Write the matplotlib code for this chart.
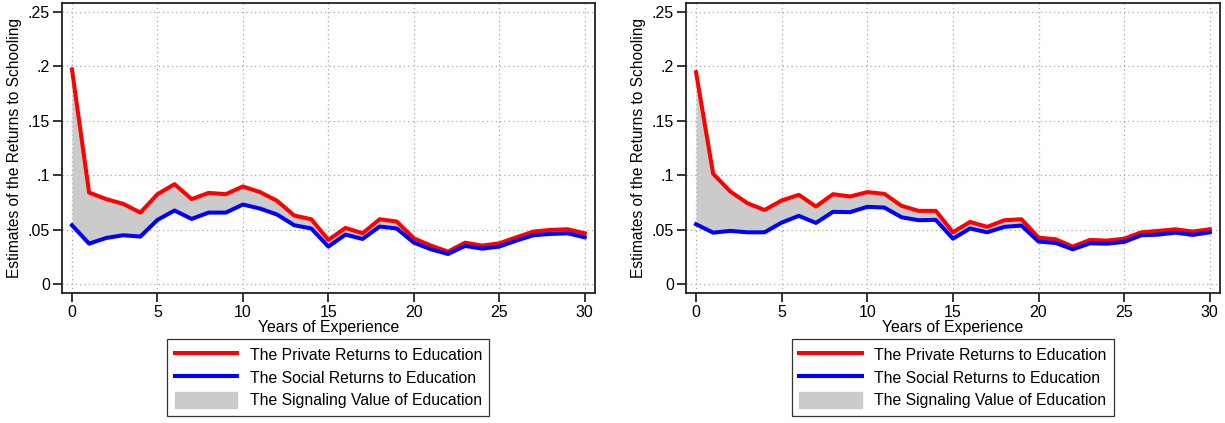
"""Private vs social returns to schooling, two panels"""

import matplotlib.pyplot as plt
from matplotlib.patches import Patch
from matplotlib.lines import Line2D

plt.rcParams['font.family'] = ['Liberation Sans', 'DejaVu Sans']

years = list(range(31))

# left panel
private_a = [0.197, 0.084, 0.078, 0.0736, 0.0656, 0.0825, 0.0917, 0.078, 0.0837, 0.0825,
             0.0896, 0.0844, 0.0764, 0.0629, 0.0595, 0.0405, 0.0515, 0.0466, 0.0595, 0.0574,
             0.042, 0.0353, 0.0298, 0.038, 0.0353, 0.0374, 0.0429, 0.0482, 0.0497, 0.0503,
             0.0466]
social_a = [0.054, 0.0371, 0.0423, 0.0448, 0.0436, 0.0589, 0.0675, 0.0598, 0.0656, 0.0656,
            0.073, 0.0693, 0.0638, 0.054, 0.051, 0.0344, 0.0454, 0.0414, 0.0528, 0.051,
            0.038, 0.0319, 0.0276, 0.035, 0.0325, 0.0344, 0.0399, 0.0448, 0.046, 0.0466,
            0.0429]

# right panel
private_b = [0.1945, 0.1012, 0.085, 0.0742, 0.068, 0.0767, 0.0819, 0.0712, 0.0825, 0.0804,
             0.0844, 0.0828, 0.0718, 0.0672, 0.0672, 0.0475, 0.057, 0.0525, 0.0586, 0.0595,
             0.0426, 0.0411, 0.0344, 0.0405, 0.0399, 0.0417, 0.0475, 0.0488, 0.0503, 0.0482,
             0.0503]
social_b = [0.0549, 0.0472, 0.0488, 0.0475, 0.0475, 0.0564, 0.0626, 0.0561, 0.0663, 0.066,
            0.0709, 0.0702, 0.0613, 0.0586, 0.0589, 0.0417, 0.051, 0.0475, 0.0525, 0.0537,
            0.039, 0.0377, 0.0319, 0.0374, 0.0371, 0.0387, 0.0448, 0.0454, 0.0472, 0.0451,
            0.0475]

yticks = [0, 0.05, 0.1, 0.15, 0.2, 0.25]
ytick_labels = ['0', '.05', '.1', '.15', '.2', '.25']
xticks = [0, 5, 10, 15, 20, 25, 30]

labels = ["The Private Returns to Education",
          "The Social Returns to Education",
          "The Signaling Value of Education"]

FILL = '#cbcbcb'


def draw_panel(ax, private, social):
    ax.fill_between(years, social, private, color=FILL, lw=0, zorder=2)
    ax.plot(years, private, color='red', lw=2.9, zorder=3)
    ax.plot(years, social, color='blue', lw=2.9, zorder=3)

    ax.set_xlim(-0.6, 30.6)
    ax.set_ylim(-0.0085, 0.258)
    ax.set_xticks(xticks)
    ax.set_yticks(yticks)
    ax.set_yticklabels(ytick_labels)
    ax.tick_params(direction='out', length=6.5, width=1.1, labelsize=11.5,
                   colors='black', pad=2)
    ax.grid(True, color='#a8a8a8', linestyle=(0, (1, 2.5)), lw=0.9, zorder=1)
    for s in ax.spines.values():
        s.set_color('#222222')
        s.set_linewidth(1.3)

    ax.set_xlabel("Years of Experience", fontsize=11.4, labelpad=0)
    ax.set_ylabel("Estimates of the Returns to Schooling", fontsize=11.2, labelpad=4)

    handles = [Line2D([], [], color='red', lw=2.9),
               Line2D([], [], color='blue', lw=2.9),
               Patch(facecolor=FILL, edgecolor=FILL)]
    leg = ax.legend(handles, labels, loc='upper center', bbox_to_anchor=(0.5, -0.158),
                    fancybox=False, edgecolor='#333333', framealpha=1, fontsize=11.3,
                    handlelength=4.0, handleheight=1.2, handletextpad=0.8,
                    borderpad=0.45, labelspacing=0.42, borderaxespad=0)
    leg.get_frame().set_linewidth(0.9)


fig = plt.figure(figsize=(12.25, 4.23), dpi=100)
ax1 = fig.add_axes([0.0504, 0.3066, 0.4353, 0.6863])
ax2 = fig.add_axes([0.5598, 0.3066, 0.4362, 0.6863])

draw_panel(ax1, private_a, social_a)
draw_panel(ax2, private_b, social_b)

fig.savefig("out.png", dpi=100)
